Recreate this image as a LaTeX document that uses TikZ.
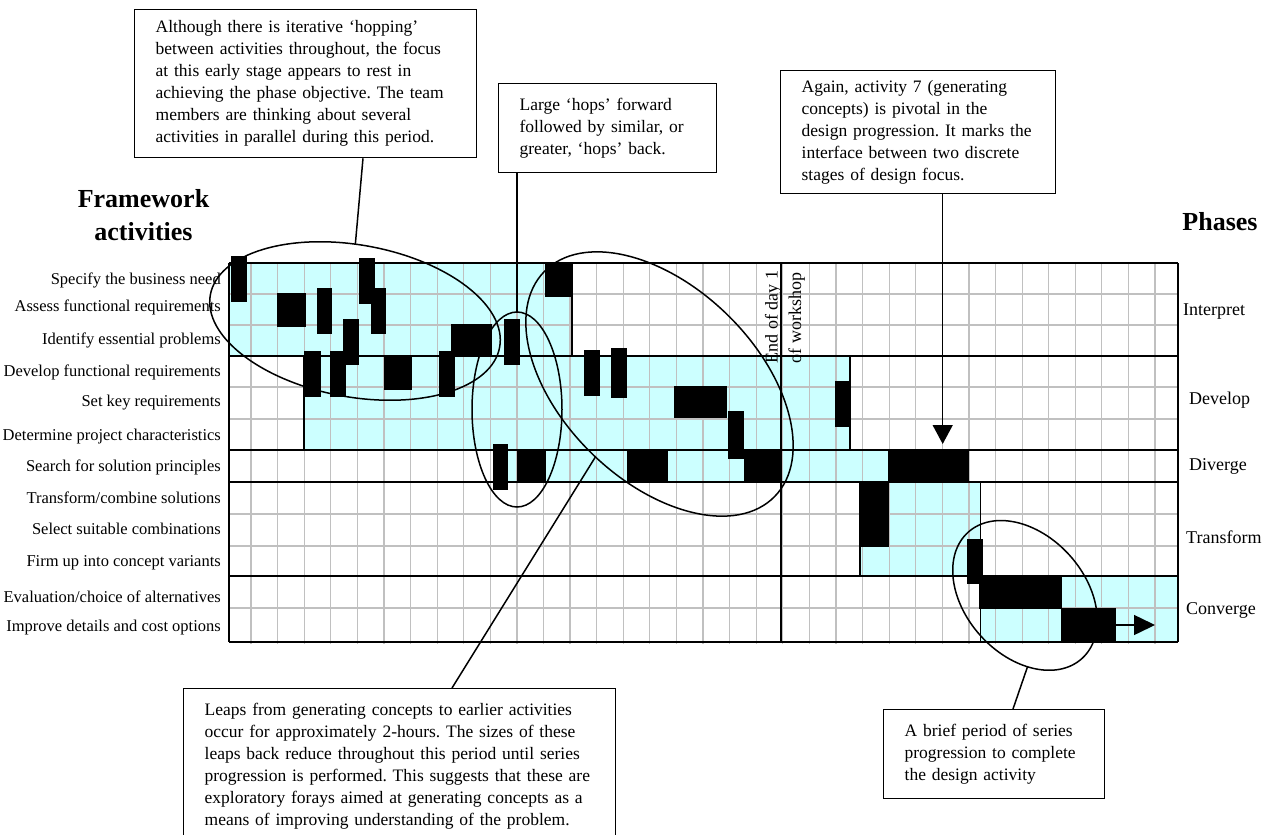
\documentclass[tikz,border=0pt]{standalone}
\usepackage{fontspec}
\setmainfont{Liberation Serif}
\usetikzlibrary{shapes.geometric,arrows.meta,calc}
\definecolor{cyanfill}{HTML}{CCFFFF}
\definecolor{gridgray}{HTML}{C0C0C0}
\newcommand\boxfont{\fontsize{17.5}{22}\selectfont}
\newcommand\lblfont{\fontsize{16.5}{20}\selectfont}
\newcommand\phfont{\fontsize{18}{23.5}\selectfont}
\newcommand\hdfont{\fontsize{26}{33}\selectfont\bfseries}
\frenchspacing
\begin{document}
\begin{tikzpicture}[x=1pt,y=-1pt,
  gridline/.style={draw=gridgray, line width=1.2pt},
  phaseline/.style={draw=black, line width=1.4pt},
  bar/.style={fill=black},
  ell/.style={ellipse, draw, line width=1.5pt, inner sep=0pt, outer sep=0pt},
  lead/.style={draw, line width=1.5pt},
  note/.style={draw, line width=1.3pt, fill=white, align=left, inner xsep=21pt, inner ysep=0pt, anchor=north west, font=\boxfont},
  act/.style={anchor=east, inner sep=0pt, font=\lblfont},
  phase/.style={anchor=west, inner sep=0pt, font=\phfont},
]
\useasboundingbox (0,0) rectangle (1270,835);
\clip (0,0) rectangle (1270,835);
\fill[white] (0,0) rectangle (1270,835);

% cyan phase regions
\fill[cyanfill] (229,263) rectangle (572,356);
\fill[cyanfill] (304,356) rectangle (850,450);
\fill[cyanfill] (493,450) rectangle (888,482);
\fill[cyanfill] (860,482) rectangle (980.5,576);
\fill[cyanfill] (980.5,576) rectangle (1178,642);

% grid
\foreach \k in {0,...,34} \draw[gridline] ({251+26.59*\k},263) -- ++(0,381);
\foreach \yy in {294,325,387,419,514,546,608} \draw[gridline] (229,\yy) -- (1178,\yy);
\foreach \yy in {263,356,450,482,576,642} \draw[phaseline] (229,\yy) -- (1178,\yy);
\draw[phaseline] (229,263) -- (229,642);
\draw[phaseline] (1178,263) -- (1178,642);
\draw[phaseline] (781,263) -- (781,642);
\draw[phaseline] (572,263) -- (572,356);
\draw[phaseline] (304,356) -- (304,450);
\draw[phaseline] (850,356) -- (850,450);
\draw[phaseline] (860,482) -- (860,576);
\draw[phaseline] (980.5,482) -- (980.5,642);

% activity bars
\fill[bar] (231,256) rectangle (247,302);
\fill[bar] (277,293) rectangle (306,327);
\fill[bar] (317,288) rectangle (332,334);
\fill[bar] (359,258) rectangle (375,304);
\fill[bar] (371,288) rectangle (386,334);
\fill[bar] (343,319) rectangle (359,365);
\fill[bar] (304,351) rectangle (321,397);
\fill[bar] (330,351) rectangle (346,397);
\fill[bar] (384,356) rectangle (412,390);
\fill[bar] (439,351) rectangle (455,397);
\fill[bar] (451,324) rectangle (492,357);
\fill[bar] (504,319) rectangle (520,365);
\fill[bar] (545,263) rectangle (573,297);
\fill[bar] (584,350) rectangle (600,396);
\fill[bar] (611,348) rectangle (627,398);
\fill[bar] (493,444) rectangle (508,490);
\fill[bar] (517,450) rectangle (546,482);
\fill[bar] (627,450) rectangle (668,482);
\fill[bar] (674,386) rectangle (727,418);
\fill[bar] (728,411) rectangle (744,459);
\fill[bar] (744,450) rectangle (782,482);
\fill[bar] (835,381) rectangle (850,427);
\fill[bar] (888,450) rectangle (969,482);
\fill[bar] (860,482) rectangle (889,547);
\fill[bar] (967,539) rectangle (983,584);
\fill[bar] (979,576) rectangle (1062,609);
\fill[bar] (1061,608) rectangle (1116,642);
\coordinate (b27) at (1116,625);
\coordinate (arrEnd) at (1155,625);
\draw[lead, -{Triangle[length=21pt,width=20pt]}] (b27) -- (arrEnd);

% end of day marker
\node[rotate=90, align=left, inner sep=0pt, font=\phfont] (eod) at (785,317) {End of day 1\\of workshop};

% headings
\node[align=center, font=\hdfont, inner sep=0pt] (fw) at (143.5,215) {Framework\\activities};
\node[font=\hdfont, inner sep=0pt] (ph) at (1220,222) {Phases};

% activity labels
\node[act] (a1) at (221,280) {Specify the business need};
\node[act] (a2) at (221,307) {Assess functional requirements};
\node[act] (a3) at (221,340) {Identify essential problems};
\node[act] (a4) at (221,372) {Develop functional requirements};
\node[act] (a5) at (221,403) {Set key requirements};
\node[act] (a6) at (221,437) {Determine project characteristics};
\node[act] (a7) at (221,467) {Search for solution principles};
\node[act] (a8) at (221,498) {Transform/combine solutions};
\node[act] (a9) at (221,529) {Select suitable combinations};
\node[act] (a10) at (221,563) {Firm up into concept variants};
\node[act] (a11) at (221,597) {Evaluation/choice of alternatives};
\node[act] (a12) at (221,628) {Improve details and cost options};

% phase labels
\node[phase] (p1) at (1183,312) {Interpret};
\node[phase] (p2) at (1189,400) {Develop};
\node[phase] (p3) at (1189,466) {Diverge};
\node[phase] (p4) at (1186,537) {Transform};
\node[phase] (p5) at (1186,610) {Converge};

% ellipses
\node[ell, minimum width=294pt, minimum height=152pt, rotate=-10.25] (e1) at (355,321) {};
\node[ell, minimum width=90pt, minimum height=195pt] (e2) at (517,409.5) {};
\node[ell, minimum width=322pt, minimum height=194pt, rotate=-44.3] (e3) at (659.5,384) {};
\node[ell, minimum width=170pt, minimum height=120pt, rotate=-48] (e4) at (1025,595.4) {};

% annotation boxes
\node[note, text width=300pt, minimum height=148pt] (box1) at (134,9) {Although there is iterative ‘hopping’\\between activities throughout, the focus\\at this early stage appears to rest in\\achieving the phase objective. The team\\members are thinking about several\\activities in parallel during this period.};
\node[note, text width=176pt, minimum height=89pt] (box2) at (498,83) {Large ‘hops’ forward\\followed by similar, or\\greater, ‘hops’ back.};
\node[note, text width=233pt, minimum height=123pt] (box3) at (780,70) {Again, activity 7 (generating\\concepts) is pivotal in the\\design progression. It marks the\\interface between two discrete\\stages of design focus.};
\node[note, text width=390pt, minimum height=156pt] (box4) at (183,688) {Leaps from generating concepts to earlier activities\\occur for approximately 2-hours. The sizes of these\\leaps back reduce throughout this period until series\\progression is performed. This suggests that these are\\exploratory forays aimed at generating concepts as a\\means of improving understanding of the problem.};
\node[note, text width=179pt, minimum height=89pt] (box5) at (883,709) {A brief period of series\\progression to complete\\the design activity};

% leaders
\draw[lead] ($(box1.south west)+(229,0)$) -- (e1.100);
\draw[lead] (e2.north |- box2.south) -- (e2.north);
\coordinate (tip3) at (942.7,444);
\draw[lead, -{Triangle[length=19pt,width=20pt]}] (tip3 |- box3.south) -- (tip3);
\draw[lead] (e3.273) -- ($(box4.north west)+(269,0)$);
\draw[lead] (e4.320) -- ($(box5.north west)+(130,0)$);
\end{tikzpicture}
\end{document}
